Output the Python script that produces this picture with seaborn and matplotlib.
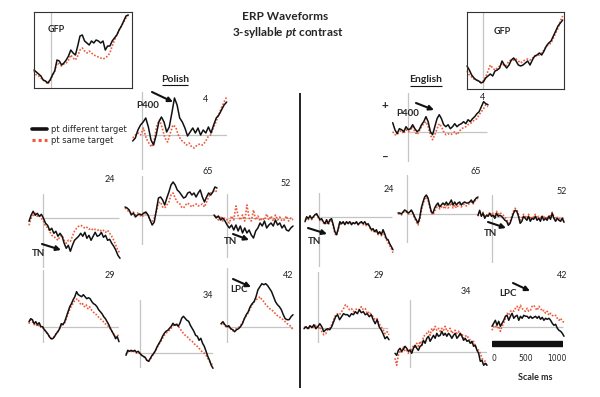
import numpy as np
import seaborn as sns
import matplotlib.pyplot as plt
from matplotlib.lines import Line2D

sns.set_style("white")
plt.rcParams['font.family'] = ['Lato', 'DejaVu Sans']
plt.rcParams['mathtext.fontset'] = 'custom'
plt.rcParams['mathtext.it'] = 'Lato:bold:italic'
plt.rcParams['mathtext.rm'] = 'Lato:bold'

BLACK = "#111111"
RED = "#ee5a3a"
GREY = "#c4c4c4"
W, H = 600, 397
K = 0.071  # px per ms

# ---------------- data (amplitudes, arbitrary units) ----------------
gfp_pl_diff = [18,16,14,12,8,7,5,8,13,17,28,27,23,25,28,32,38,35,33,42,52,53,47,45,43,47,45,48,47,45,47,38,42,42,47,50,53,58,62,67,72,73]
gfp_pl_same = [17,13,12,10,8,6,4,7,12,17,25,24,22,24,25,28,33,30,28,32,38,40,37,35,37,35,33,32,31,30,29,30,32,35,42,48,53,58,62,66,70,73]
gfp_en_diff = [23,19,14,11,9,8,6,7,11,13,15,13,18,19,21,28,24,21,24,29,31,28,24,23,24,26,28,24,29,33,34,36,34,38,43,46,48,53,58,63,66,69]
gfp_en_same = [18,14,12,10,9,8,7,8,12,18,24,21,19,21,23,26,23,24,28,29,29,30,28,26,28,29,30,29,31,32,34,34,36,39,43,44,46,51,56,61,68,73]

# Polish electrodes
pl4_diff = [-6,-3,5,10,13,17,8,-5,-10,0,13,18,13,3,8,22,37,30,17,13,7,-1,3,7,2,7,0,5,2,8,2,10,17,20,25,30,33]
pl4_same = [-3,0,2,0,7,-3,-8,-12,-5,10,15,7,-3,-7,2,10,8,0,-5,-7,-10,-8,-12,-13,-10,-9,-10,-7,-2,0,7,13,20,27,33,38]
pl24_diff = [-3,3,7,3,5,2,4,0,-5,-7,-12,-10,-15,-13,-18,-15,-18,-25,-30,-27,-33,-27,-22,-20,-18,-15,-18,-14,-20,-17,-22,-18,-14,-18,-17,-14,-19,-17,-22,-21,-25,-28,-32,-37,-40]
pl24_same = [-7,0,3,5,2,3,0,-3,-8,-9,-13,-17,-18,-20,-22,-18,-17,-22,-25,-22,-23,-18,-13,-10,-8,-7,-8,-10,-9,-11,-10,-12,-11,-12,-11,-13,-12,-14,-12,-15,-18,-22,-27,-32,-35]
pl65_diff = [8,7,5,0,2,-2,0,1,0,2,3,0,-5,-10,-7,5,17,18,15,10,17,23,30,33,30,25,23,20,17,18,22,23,20,22,18,22,25,18,13,18,22,20,23,28,27]
pl65_same = [7,5,3,2,3,0,2,0,-2,0,2,0,-5,-7,-3,3,12,13,8,7,10,13,20,22,17,13,12,8,7,10,12,10,8,10,11,9,10,11,8,13,18,22,23,25,23]
pl52_diff = [3,0,2,-2,0,-3,-7,-10,-7,-12,-7,-13,-8,-15,-10,-15,-12,-17,-20,-13,-10,-5,-8,-3,-10,-7,-5,-8,-2,-7,-5,-10,-7,-12,-13,-10,-8]
pl52_same = [2,3,-2,2,-3,0,-2,-5,2,-2,12,2,-2,3,-3,13,0,-3,8,-2,2,-3,0,-2,4,-2,2,-3,3,-2,1,-3,-2,2,-3,0,-2]
pl29_diff = [5,8,7,3,5,2,4,0,0,-3,-5,-7,-10,-12,-12,-10,-7,-5,-2,3,2,5,10,15,20,23,27,30,35,32,31,30,32,30,28,29,28,25,23,22,20,17,15,13,10,8,5,2,-2,-5,-8,-12,-10,-15]
pl29_same = [3,7,5,2,3,0,2,-1,-1,-3,-5,-8,-10,-12,-11,-9,-6,-4,-1,3,2,5,10,15,19,22,25,27,28,25,22,23,20,22,18,20,17,15,13,12,10,8,7,5,3,2,0,-2,-5,-8,-10,-8,-10]
pl34_diff = [-2,3,2,3,2,3,1,2,0,-2,-3,-4,-7,-8,-5,-2,0,3,7,10,13,17,20,22,23,25,27,30,28,29,27,30,35,37,35,33,32,28,25,22,18,17,13,15,10,7,2,-3,-7,-12,-15]
pl34_same = [-1,2,1,2,1,2,0,1,-1,-2,-3,-5,-7,-8,-6,-3,0,3,6,9,12,15,18,20,22,23,25,28,27,30,27,25,22,20,18,17,15,13,12,10,8,7,5,3,1,0,-2,-5,-8,-10,-13]
pl42_diff = [3,5,2,0,1,-2,-3,-5,-3,-2,0,3,8,12,15,20,23,25,30,37,40,43,42,43,41,38,35,30,25,22,20,17,12,8,7,7,10,12]
pl42_same = [2,4,1,-1,0,-2,-4,-3,-2,-1,1,4,8,11,14,18,22,25,27,28,30,27,25,22,20,18,17,15,13,11,10,8,7,5,3,2,0,-3]

# English electrodes
en4_diff = [9,2,-2,3,2,0,5,2,3,7,3,0,2,7,10,15,10,0,-3,5,13,17,13,7,5,7,3,5,8,5,7,8,10,8,12,10,13,15,18,20,25,30,28,27]
en4_same = [0,-3,-3,0,1,-2,2,0,2,5,0,-3,1,5,8,10,5,-3,-8,-3,3,8,5,0,-3,-2,-3,-2,0,-3,0,3,4,5,7,8,10,12,13,17,20,23,27,25]
en24_diff = [-5,0,-2,1,-2,0,2,3,0,-3,-2,-5,-7,-3,-7,-3,-2,-8,-15,-18,-12,-5,-7,-5,-8,-5,-7,-5,-8,-6,-7,-5,-8,-6,-5,-7,-5,-8,-7,-10,-13,-12,-15,-13,-17,-15,-18,-13,-17,-22,-23,-27,-30,-33]
en24_same = [-3,-2,-3,0,-3,-1,1,2,-1,-4,-3,-6,-8,-5,-8,-5,-3,-10,-17,-19,-13,-6,-8,-6,-7,-5,-6,-5,-7,-6,-7,-6,-8,-7,-6,-8,-7,-9,-8,-11,-14,-13,-16,-15,-18,-16,-19,-15,-19,-23,-26,-29,-32,-36]
en65_diff = [1,1,0,2,4,3,1,2,4,1,-3,-6,-9,-4,6,12,17,19,16,9,2,1,6,9,11,7,9,11,9,12,9,11,14,9,12,9,11,12,9,11,12,11,11,12,14,11,14,16,17]
en65_same = [0,0,-1,1,3,2,0,1,3,0,-4,-8,-11,-6,3,10,15,17,14,7,1,-1,3,6,9,5,7,8,5,9,6,8,11,6,9,6,8,10,7,9,10,8,9,11,12,10,13,14,16]
en52_diff = [2,7,1,4,-1,2,1,4,1,2,-1,4,1,2,1,-1,-3,-4,-8,-6,-1,4,7,6,1,-6,-4,1,-1,-3,1,-4,-1,-2,1,-3,-1,-4,1,-3,-1,-3,1,-2,4,-1,-4,-1,-3,-4,-1,-5]
en52_same = [1,5,2,5,0,3,2,5,2,4,1,6,3,5,3,2,0,-2,-6,-5,1,6,9,8,3,-3,-1,3,1,-1,3,-2,1,0,3,-1,1,-2,2,-1,1,-2,2,0,5,1,-2,0,-1,-3,0,-4]
en29_diff = [-1,1,-1,2,0,3,-1,1,4,1,-4,-2,-1,-2,1,6,11,13,8,11,14,13,13,11,14,13,16,14,18,15,16,13,14,11,13,8,4,8,1,-2,-6,-11,-9,-12]
en29_same = [1,-1,1,-1,2,0,3,-1,1,-4,-7,-6,-2,-1,3,8,13,14,13,16,19,23,21,18,19,16,18,19,18,21,18,19,14,16,13,11,8,9,4,1,-2,-6,-4,-7]
en34_diff = [-1,-3,2,4,1,3,6,4,1,2,-1,4,7,4,2,6,7,12,9,14,16,11,14,17,14,19,16,17,21,17,19,16,19,17,14,17,19,14,16,19,16,12,14,11,12,9,11,6,7,2,-1,-9,-8,-13,-11,-13]
en34_same = [-6,-13,-3,2,-1,6,1,2,-1,4,1,7,4,9,6,11,7,16,17,19,21,17,24,21,26,22,24,21,24,22,26,21,22,24,19,21,22,19,21,16,19,14,16,17,14,12,9,11,6,4,2,-1,-6,-8,-9,-14]
en42_diff = [1,4,7,2,6,1,4,7,11,12,7,11,14,9,11,12,7,11,9,12,11,11,9,11,9,10,11,9,11,8,10,7,9,8,9,7,4,2,3,-1,-3,-4,-6,-9]
en42_same = [-3,1,2,-1,1,-4,1,4,9,14,12,16,17,16,19,21,17,22,19,17,16,19,16,17,21,22,19,17,21,19,16,17,14,16,12,14,12,11,12,9,7,9,6,5]

scale_ticks = [0, 500, 1000]

# ---------------- layout (pixel positions) ----------------
# label, label xy, wave start, zero line x, wave end, baseline y, vline top, vline bottom, hline end
panels = [
    ("4", (206, 99), 132.7, 141.7, 226.7, 135, 92, 170, 226.7, pl4_diff, pl4_same, True),
    ("24", (110, 180), 29, 43.3, 120, 218.3, 194, 268, 119, pl24_diff, pl24_same, True),
    ("65", (208, 172), 125, 141.7, 217, 215, 176, 245, 215, pl65_diff, pl65_same, True),
    ("52", (286, 183), 214, 226.7, 293, 218, 194, 258, 293, pl52_diff, pl52_same, True),
    ("29", (110, 275), 29, 43.3, 119, 326.7, 270, 343, 119, pl29_diff, pl29_same, True),
    ("34", (208, 295), 126, 140, 213, 353.3, 300, 368, 215, pl34_diff, pl34_same, True),
    ("42", (288, 275), 221, 226.7, 293, 326.7, 268, 343, 293, pl42_diff, pl42_same, True),
    ("4", (483, 98), 392.7, 408.3, 488, 131.7, 93, 162, 487, en4_diff, en4_same, True),
    ("24", (389, 189), 305, 319, 393, 216.7, 193, 267, 392, en24_diff, en24_same, True),
    ("65", (476, 172), 398, 406.7, 478, 214, 175, 243, 478, en65_diff, en65_same, True),
    ("52", (562, 192), 478, 491.7, 564, 217.3, 195, 263, 563, en52_diff, en52_same, True),
    ("29", (379, 275), 304, 318, 389, 327.7, 272, 343, 388, en29_diff, en29_same, True),
    ("34", (466, 291), 395, 410, 487, 352.3, 300, 368, 487, en34_diff, en34_same, True),
    ("42", (562, 275), 492, 492, 564, 327.3, 280, 335, 563, en42_diff, en42_same, False),
]


def rect(l, t, r, b):
    return [l / W, 1 - b / H, (r - l) / W, (b - t) / H]


def draw_waves(ax, t0, t1, diff, same):
    sns.lineplot(x=np.linspace(t0, t1, len(same)), y=same, ax=ax, color=RED,
                 linestyle=(0, (1, 1)), linewidth=1.2, clip_on=False, estimator=None)
    sns.lineplot(x=np.linspace(t0, t1, len(diff)), y=diff, ax=ax, color=BLACK,
                 linewidth=1.1, clip_on=False, estimator=None)


fig = plt.figure(figsize=(6, 3.97), dpi=100)

# overlay for texts, arrows, divider (kept on top)
ov = fig.add_axes([0, 0, 1, 1])
ov.set_xlim(0, W)
ov.set_ylim(H, 0)
ov.axis('off')
ov.patch.set_alpha(0)
ov.set_zorder(10)

for lab, lxy, ws, z, we, base, vt, vb, he, diff, same, vline in panels:
    t0, t1 = (ws - z) / K, (we - z) / K
    ax = fig.add_axes(rect(ws, vt, we, vb))
    ax.set_xlim(t0, t1)
    ax.set_ylim(-(vb - base), base - vt)
    ax.axis('off')
    ax.patch.set_alpha(0)
    if vline:
        ax.axvline(0, color=GREY, lw=0.9)
    ax.hlines(0, 0, (he - z) / K, color=GREY, lw=0.9)
    draw_waves(ax, t0, t1, diff, same)
    ov.text(lxy[0], lxy[1], lab, ha='center', va='center', fontsize=6.5, color='#222222')

# GFP boxes
for (l, t, r, b, z, we, diff, same, gxy) in [
        (34, 12, 132, 88, 51, 128.3, gfp_pl_diff, gfp_pl_same, (56, 30)),
        (467, 12, 564, 89, 483, 562.7, gfp_en_diff, gfp_en_same, (502, 32))]:
    ax = fig.add_axes(rect(l, t, r, b))
    t0, t1 = (l - z) / K, (r - z) / K
    ax.set_xlim(t0, t1)
    ax.set_ylim(0, b - t)
    ax.set_xticks([])
    ax.set_yticks([])
    ax.patch.set_alpha(0)
    for s in ax.spines.values():
        s.set_visible(True)
        s.set_color('#333333')
        s.set_linewidth(0.8)
    ax.axvline(0, color=GREY, lw=0.9)
    draw_waves(ax, t0, (we - z) / K, diff, same)
    ov.text(gxy[0], gxy[1], "GFP", ha='center', va='center', fontsize=6.5, fontweight='bold')

# titles
ov.text(285, 17, "ERP Waveforms", ha='center', va='center', fontsize=8.5, fontweight='bold')
ov.text(288, 33, r"3-syllable $\mathit{pt}$ contrast", ha='center', va='center', fontsize=8.5, fontweight='bold')
ov.text(175, 79, "Polish", ha='center', va='center', fontsize=7.5, fontweight='bold')
ov.hlines(85, 162, 188, color=BLACK, lw=0.8)
ov.text(426, 80, "English", ha='center', va='center', fontsize=7.5, fontweight='bold')
ov.hlines(86, 410, 442, color=BLACK, lw=0.8)

# divider
ov.vlines(300, 93, 388, color=BLACK, lw=1.3)

# annotations
def arrow(x0, y0, x1, y1):
    ov.annotate('', xy=(x1, y1), xytext=(x0, y0),
                arrowprops=dict(arrowstyle='-|>', color=BLACK, lw=1.5, mutation_scale=7,
                                shrinkA=0, shrinkB=0))

for txt, x, y in [("P400", 148, 105), ("P400", 408, 113), ("TN", 39, 253), ("TN", 231, 241),
                  ("TN", 315, 242), ("TN", 491, 233), ("LPC", 239, 289), ("LPC", 508, 293)]:
    ov.text(x, y, txt, ha='center', va='center', fontsize=7, fontweight='bold')
arrow(152, 92, 173, 102)
arrow(416, 103, 434, 110)
arrow(42, 244, 61, 250)
arrow(233, 234, 249, 240)
arrow(308, 228, 327, 234)
arrow(488, 222, 506, 228)
arrow(233, 279, 251, 287)
arrow(513, 283, 530, 291)

ov.text(385, 106, "+", ha='center', va='center', fontsize=8.5, fontweight='bold')
ov.text(385, 157, "\u2013", ha='center', va='center', fontsize=8.5, fontweight='bold')

# legend
handles = [Line2D([], [], color=BLACK, lw=2.6),
           Line2D([], [], color=RED, lw=2.2, linestyle=(0, (1, 1)))]
fig.legend(handles, ["pt different target", "pt same target"], loc='center left',
           bbox_to_anchor=(24 / W, 1 - 135 / H), frameon=False, handlelength=1.9,
           handletextpad=0.4, labelspacing=0.25, prop={'family': 'DejaVu Sans', 'size': 6})

# scale bar
sax = fig.add_axes(rect(492, 336, 563, 362))
sax.set_xlim(-30, 1100)
sax.set_ylim(0, 1)
sax.axis('off')
sax.axhspan(0.6, 0.82, color=BLACK)
for v in scale_ticks:
    sax.text(v, 0.15, str(v), ha='center', va='center', fontsize=5.5, family='DejaVu Sans Condensed')
ov.text(535, 378, "Scale ms", ha='center', va='center', fontsize=6.5, fontweight='bold')

fig.savefig("out.png", dpi=100)
